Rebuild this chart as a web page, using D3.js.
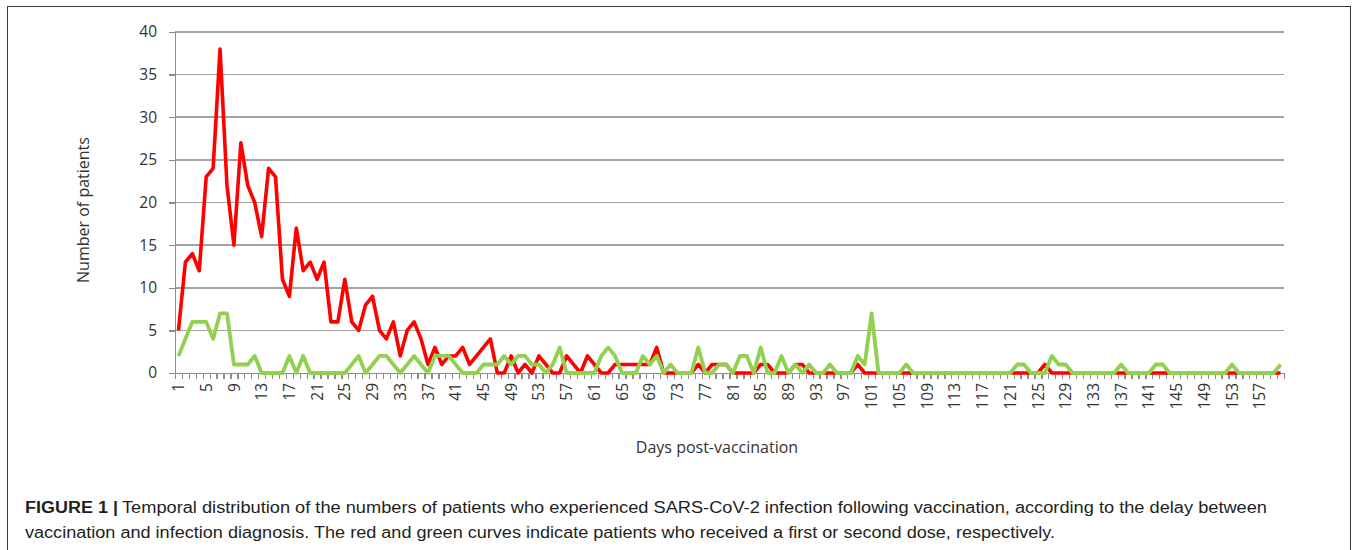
<!DOCTYPE html>
<html>
<head>
<meta charset="utf-8">
<script src="https://d3js.org/d3.v7.min.js"></script>
<style>
  body { margin: 0; background: #fff; }
  svg { display: block; }
  .axis text { font-family: "Open Sans", sans-serif; font-size: 15.5px; fill: #333; }
  .axis path, .axis line { stroke: #8c8c8c; stroke-width: 1.3; shape-rendering: crispEdges; }
  .grid line { stroke: #a3a3a3; stroke-width: 1.6; shape-rendering: crispEdges; }
  .title { font-family: "Open Sans", sans-serif; font-size: 16px; fill: #333; }
  .caption { font-family: "Liberation Sans", Arial, sans-serif; font-size: 16px; fill: #231f20; }
</style>
</head>
<body>
<script>
// days post-vaccination, 1..160
var days = d3.range(1, 161);

// red curve: first dose
var firstDose = [
  5, 13, 14, 12, 23, 24, 38, 22, 15, 27,
  22, 20, 16, 24, 23, 11, 9, 17, 12, 13,
  11, 13, 6, 6, 11, 6, 5, 8, 9, 5,
  4, 6, 2, 5, 6, 4, 1, 3, 1, 2,
  2, 3, 1, 2, 3, 4, 0, 0, 2, 0,
  1, 0, 2, 1, 0, 0, 2, 1, 0, 2,
  1, 0, 0, 1, 1, 1, 1, 1, 1, 3,
  0, 0, 0, 0, 0, 1, 0, 1, 1, 1,
  0, 0, 0, 0, 1, 1, 0, 0, 0, 1,
  1, 0, 0, 0, 0, 0, 0, 0, 1, 0,
  0, 0, 0, 0, 0, 0, 0, 0, 0, 0,
  0, 0, 0, 0, 0, 0, 0, 0, 0, 0,
  0, 0, 0, 0, 0, 1, 0, 0, 0, 0,
  0, 0, 0, 0, 0, 0, 0, 0, 0, 0,
  0, 0, 0, 0, 0, 0, 0, 0, 0, 0,
  0, 0, 0, 0, 0, 0, 0, 0, 0, 0
];

// green curve: second dose
var secondDose = [
  2, 4, 6, 6, 6, 4, 7, 7, 1, 1,
  1, 2, 0, 0, 0, 0, 2, 0, 2, 0,
  0, 0, 0, 0, 0, 1, 2, 0, 1, 2,
  2, 1, 0, 1, 2, 1, 0, 2, 2, 2,
  1, 0, 0, 0, 1, 1, 1, 2, 1, 2,
  2, 1, 1, 0, 1, 3, 0, 0, 0, 0,
  0, 2, 3, 2, 0, 0, 0, 2, 1, 2,
  0, 1, 0, 0, 0, 3, 0, 0, 1, 1,
  0, 2, 2, 0, 3, 0, 0, 2, 0, 1,
  0, 1, 0, 0, 1, 0, 0, 0, 2, 1,
  7, 0, 0, 0, 0, 1, 0, 0, 0, 0,
  0, 0, 0, 0, 0, 0, 0, 0, 0, 0,
  0, 1, 1, 0, 0, 0, 2, 1, 1, 0,
  0, 0, 0, 0, 0, 0, 1, 0, 0, 0,
  0, 1, 1, 0, 0, 0, 0, 0, 0, 0,
  0, 0, 1, 0, 0, 0, 0, 0, 0, 1
];

var yTicks = [0, 5, 10, 15, 20, 25, 30, 35, 40];
var xLabelDays = d3.range(1, 161, 4);

var captionBold = "FIGURE 1 |";
var captionLine1 = "Temporal distribution of the numbers of patients who experienced SARS-CoV-2 infection following vaccination, according to the delay between";
var captionLine2 = "vaccination and infection diagnosis. The red and green curves indicate patients who received a first or second dose, respectively.";

var W = 1357, H = 550;
var plotLeft = 175, plotRight = 1284, plotTop = 32, plotBottom = 373;

var svg = d3.select("body").append("svg").attr("width", W).attr("height", H);

// frame
svg.append("rect")
  .attr("x", 7.5).attr("y", 6.5).attr("width", 1343).attr("height", 600)
  .attr("fill", "none").attr("stroke", "#3a3a3a").attr("stroke-width", 1);

var x = d3.scaleBand().domain(days).range([plotLeft, plotRight]).padding(0);
var xEdge = d3.scaleLinear().domain([0, days.length]).range([plotLeft, plotRight]);
var y = d3.scaleLinear().domain([0, 40]).range([plotBottom, plotTop]);

// gridlines
svg.append("g").attr("class", "grid")
  .selectAll("line").data(yTicks.filter(d => d > 0)).enter().append("line")
  .attr("x1", plotLeft).attr("x2", plotRight)
  .attr("y1", d => y(d)).attr("y2", d => y(d));

// y axis
svg.append("g").attr("class", "axis")
  .attr("transform", "translate(" + plotLeft + ",0)")
  .call(d3.axisLeft(y).tickValues(yTicks).tickSize(6).tickPadding(12));

// x axis ticks at category boundaries
svg.append("g").attr("class", "axis")
  .attr("transform", "translate(0," + plotBottom + ")")
  .call(d3.axisBottom(xEdge).tickValues(d3.range(0, days.length + 1)).tickSize(6).tickFormat(""));

// x labels, rotated
var xl = svg.append("g").attr("class", "axis")
  .attr("transform", "translate(0," + plotBottom + ")")
  .call(d3.axisBottom(x).tickValues(xLabelDays).tickSize(0));
xl.select(".domain").remove();
xl.selectAll("text")
  .attr("transform", "rotate(-90)")
  .attr("text-anchor", "end")
  .attr("x", -10).attr("y", 0).attr("dy", "0.36em");

// lines
var line = d3.line()
  .x((d, i) => x(days[i]) + x.bandwidth() / 2)
  .y(d => y(d));

svg.append("path").datum(firstDose)
  .attr("fill", "none").attr("stroke", "#ff0000")
  .attr("stroke-width", 3.6).attr("stroke-linejoin", "round")
  .attr("d", line);

svg.append("path").datum(secondDose)
  .attr("fill", "none").attr("stroke", "#92d050")
  .attr("stroke-width", 3.8).attr("stroke-linejoin", "round")
  .attr("d", line);

// axis titles
svg.append("text").attr("class", "title")
  .attr("transform", "translate(89,210) rotate(-90)")
  .attr("text-anchor", "middle")
  .text("Number of patients");

svg.append("text").attr("class", "title")
  .attr("x", 717).attr("y", 453)
  .attr("text-anchor", "middle")
  .text("Days post-vaccination");

// caption
svg.append("text").attr("class", "caption")
  .attr("x", 25).attr("y", 513)
  .attr("font-weight", "bold")
  .attr("textLength", 93).attr("lengthAdjust", "spacingAndGlyphs")
  .text(captionBold);
svg.append("text").attr("class", "caption")
  .attr("x", 122).attr("y", 513)
  .attr("textLength", 1145).attr("lengthAdjust", "spacingAndGlyphs")
  .text(captionLine1);
svg.append("text").attr("class", "caption")
  .attr("x", 25).attr("y", 538)
  .attr("textLength", 1030).attr("lengthAdjust", "spacingAndGlyphs")
  .text(captionLine2);
</script>
</body>
</html>
